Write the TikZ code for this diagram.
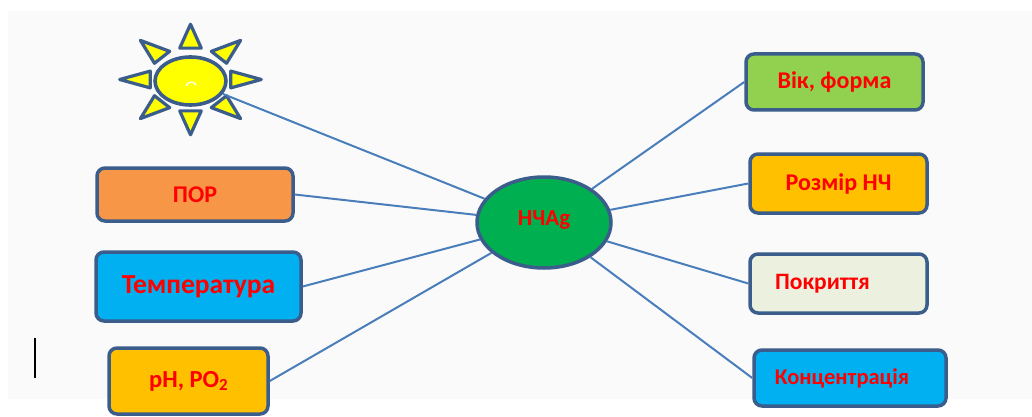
\documentclass[tikz,border=0pt]{standalone}
\usepackage{fontspec}
\setmainfont{Carlito}
\usetikzlibrary{shapes.geometric}
\definecolor{bord}{HTML}{3B5D8C}
\definecolor{linkc}{HTML}{4A7EBB}
\definecolor{txtred}{HTML}{FF0000}
\definecolor{bgc}{HTML}{FAFAFA}
\definecolor{corange}{HTML}{F79646}
\definecolor{cblue}{HTML}{00B0F0}
\definecolor{cgold}{HTML}{FFC000}
\definecolor{cgreen}{HTML}{92D050}
\definecolor{cpale}{HTML}{EBF1DE}
\definecolor{cdkgreen}{HTML}{00B050}
\definecolor{sunyel}{HTML}{FFFF00}
\begin{document}
\begin{tikzpicture}[x=1pt,y=-1pt,
  box/.style={draw=bord, line width=3.5pt, rounded corners=8pt, inner sep=0pt, text=txtred},
  conn/.style={draw=linkc, line width=2pt},
  sunray/.style={draw=bord, fill=sunyel, line width=3.2pt, line join=round},
  fs/.style={font=\bfseries\fontsize{#1}{#1}\selectfont}]
\useasboundingbox (0,0) rectangle (1032,417);
\fill[bgc] (8,11) rectangle (1032,399);
% sun rays
\begin{scope}[shift={(190.5,79.5)}, x={(73pt,0pt)}, y={(0pt,-57pt)}]
  \foreach \a in {0,45,...,315}
    \draw[sunray] (\a:0.97) -- (\a-15:0.57) -- (\a+15:0.57) -- cycle;
\end{scope}
% nodes
\node[ellipse, draw=bord, fill=sunyel, line width=3.6pt, minimum width=71pt, minimum height=48pt, inner sep=0pt] (sun) at (190.5,81) {};
\draw[white, line width=1.3pt, line cap=round] (186,86) .. controls (188,81) and (194,81) .. (196,85);
\node[ellipse, draw=bord, fill=cdkgreen, line width=3.5pt, minimum width=134pt, minimum height=91pt, inner sep=0pt, text=txtred, fs=23] (c) at (544,222.5) {\raisebox{8pt}{НЧAg}};
\node[box, fill=corange, minimum width=196pt, minimum height=53pt, fs=24] (por) at (195,194.5) {\raisebox{-2pt}{ПОР}};
\node[box, fill=cblue, minimum width=205pt, minimum height=69pt, fs=27.5] (temp) at (198.5,286.5) {Температура};
\node[box, fill=cgold, minimum width=159pt, minimum height=66pt, fs=24.5] (ph) at (188.5,381) {pH, PO{\fontsize{17}{17}\selectfont\raisebox{-3pt}{2}}};
\node[box, fill=cgreen, minimum width=177pt, minimum height=56pt, fs=24] (vik) at (834.5,82) {Вік, форма};
\node[box, fill=cgold, minimum width=177pt, minimum height=59pt, fs=24] (rozm) at (838.5,183.5) {Розмір НЧ};
\node[box, fill=cpale, minimum width=177pt, minimum height=59pt, fs=23.5] (pokr) at (838.5,283.5) {Покриття\kern32pt};
\node[box, fill=cblue, minimum width=192pt, minimum height=56pt, fs=22.5] (konc) at (850,378) {Концентрація\kern16pt};
% connectors
\draw[conn] (sun) -- (c);
\draw[conn] (por.east) -- (c);
\draw[conn] (temp.east) -- (c);
\draw[conn] (ph.east) -- (c);
\draw[conn] (vik.west) -- (c);
\draw[conn] (rozm.west) -- (c);
\draw[conn] (pokr.west) -- (c);
\draw[conn] (konc.west) -- (c);
% text cursor
\coordinate (cur1) at (35,338);
\coordinate (cur2) at (35,378);
\draw[black, line width=1.3pt] (cur1) -- (cur2);
\end{tikzpicture}
\end{document}
